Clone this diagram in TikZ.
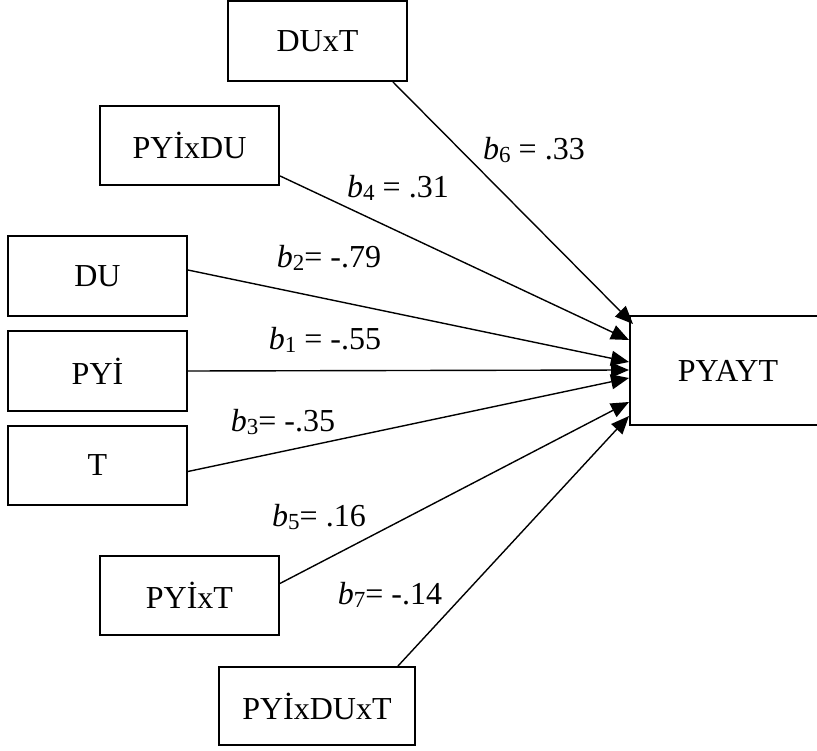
\documentclass[tikz,border=0pt]{standalone}
\usepackage{fontspec}
\setmainfont{Liberation Serif}
\usetikzlibrary{arrows.meta,calc}
\newcommand{\bsub}[1]{\textit{b}\raisebox{-3pt}{\fontsize{23}{23}\selectfont #1}}
\begin{document}
\begin{tikzpicture}[x=1pt,y=-1pt,
  box/.style={draw,line width=1.8pt,minimum width=179pt,minimum height=80pt,inner sep=0pt,font=\fontsize{32}{32}\selectfont},
  conn/.style={line width=1.4pt,-{Triangle[length=18pt,width=15pt]}},
  lab/.style={font=\fontsize{32}{32}\selectfont,inner sep=0pt}]
\useasboundingbox (0,0) rectangle (817,751);
% boxes
\node[box] (DUxT) at (317.5,41) {DUxT};
\node[box,minimum height=79pt] (PYIxDU) at (189.5,145.5) {PYİxDU};
\node[box] (DU) at (97.5,276) {DU};
\node[box] (PYI) at (97.5,371) {PYİ};
\node[box,minimum height=79pt] (T) at (97.5,465.5) {T};
\node[box,minimum height=79pt] (PYIxT) at (189.5,595.5) {PYİxT};
\node[box,minimum width=196pt,minimum height=78pt] (PYIxDUxT) at (317,706) {PYİxDUxT};
\node[box,minimum width=196pt,minimum height=109pt] (PYAYT) at (728,370.5) {PYAYT};
% arrow targets
\coordinate (t6) at (633,324);
\coordinate (t4) at (629,340);
\coordinate (t2) at (629,362);
\coordinate (t1) at (629,370);
\coordinate (t3) at (629,378);
\coordinate (t5) at (629,402);
\coordinate (t7) at (629,416);
% connectors
\draw[conn] ([xshift=-15pt]DUxT.south east) -- (t6);
\draw[conn] ([yshift=10pt]PYIxDU.south east) -- (t4);
\draw[conn] ([yshift=6pt]DU.east) -- (t2);
\draw[conn] (PYI.east) -- (t1);
\draw[conn] ([yshift=-6pt]T.east) -- (t3);
\draw[conn] ([yshift=12pt]PYIxT.east) -- (t5);
\draw[conn] ([xshift=-18pt]PYIxDUxT.north east) -- (t7);
% labels
\node[lab] (l6) at (534,150) {\bsub{6} = .33};
\node[lab] (l4) at (398,188) {\bsub{4} = .31};
\node[lab] (l2) at (329,258) {\bsub{2}= -.79};
\node[lab] (l1) at (325,340) {\bsub{1} = -.55};
\node[lab] (l3) at (283,422) {\bsub{3}= -.35};
\node[lab] (l5) at (319,517) {\bsub{5}= .16};
\node[lab] (l7) at (390,595) {\bsub{7}= -.14};
\end{tikzpicture}
\end{document}
